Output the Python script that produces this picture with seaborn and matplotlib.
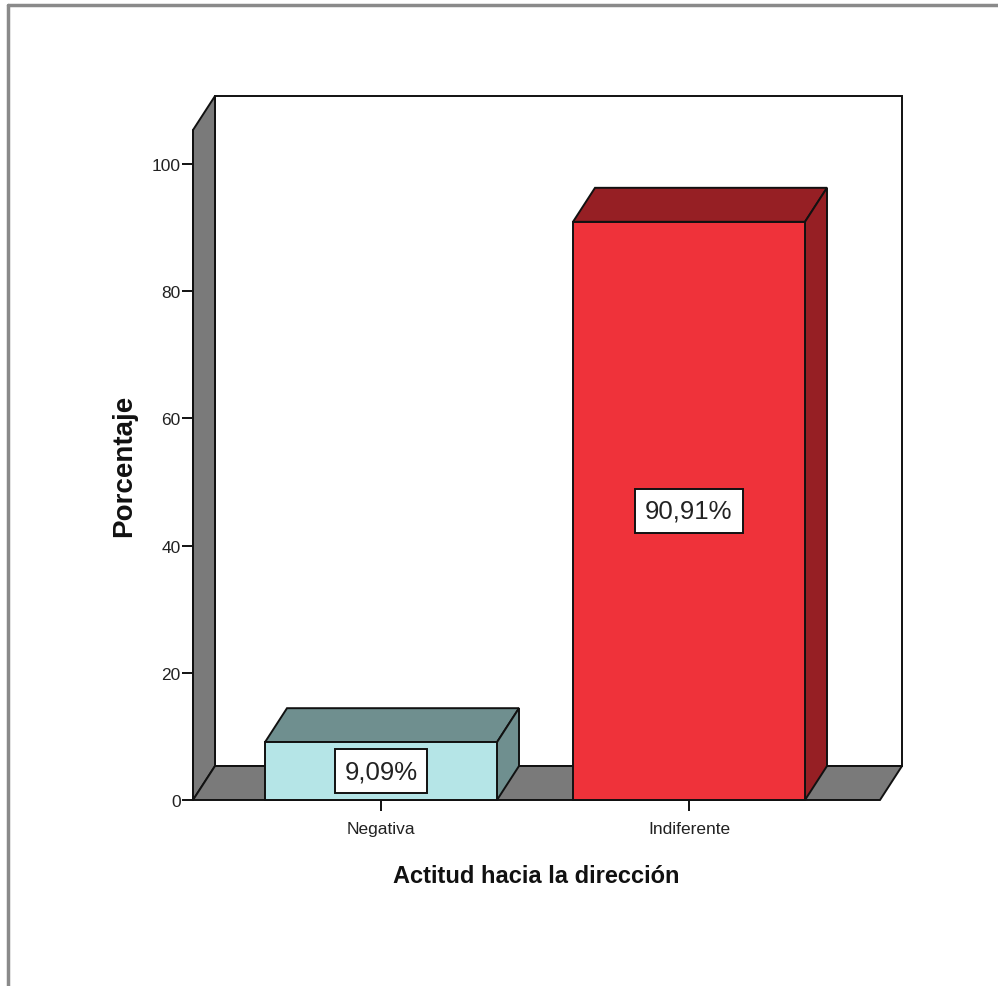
import matplotlib
matplotlib.use("Agg")
import matplotlib.pyplot as plt
from matplotlib.patches import Polygon
from matplotlib.lines import Line2D
import seaborn as sns

# Data
categories = ["Negativa", "Indiferente"]
percent = [9.09, 90.91]
value_labels = ["9,09%", "90,91%"]
y_ticks = [0, 20, 40, 60, 80, 100]

# Styling
front_colors = ["#b5e5e7", "#ef323a"]
shade_colors = ["#6f8f8f", "#961f24"]
wall_color = "#7a7a7a"
edge = "#111111"

sns.set_theme(style="white")
plt.rcParams["font.family"] = ["Liberation Sans", "DejaVu Sans"]

W, H = 998, 987
fig = plt.figure(figsize=(W / 100, H / 100), dpi=100)

# axes occupy the front face of the 3D box (pixel geometry)
left_px, right_px, bottom_px, top_px = 193, 880, 801, 131
ax = fig.add_axes([left_px / W, 1 - bottom_px / H,
                   (right_px - left_px) / W, (bottom_px - top_px) / H])

px_per_unit_x = 308.0
px_per_unit_y = 6.36
x_lo = -188 / px_per_unit_x
x_hi = 1 + 191 / px_per_unit_x
y_hi = (bottom_px - top_px) / px_per_unit_y
dx = 22 / px_per_unit_x          # depth offset in data units
dy = 34 / px_per_unit_y
bar_w = 232 / px_per_unit_x

sns.barplot(x=categories, y=percent, hue=categories, palette=front_colors,
            width=bar_w, saturation=1, errorbar=None, legend=False,
            edgecolor=edge, linewidth=1.4, ax=ax)

ax.set_xlim(x_lo, x_hi)
ax.set_ylim(0, y_hi)

# back wall
ax.add_patch(Polygon([(x_lo + dx, dy), (x_hi + dx, dy), (x_hi + dx, y_hi + dy),
                      (x_lo + dx, y_hi + dy)], closed=True, facecolor="white",
                     edgecolor=edge, linewidth=1.4, clip_on=False, zorder=0.5))
# left wall
ax.add_patch(Polygon([(x_lo, 0), (x_lo + dx, dy), (x_lo + dx, y_hi + dy), (x_lo, y_hi)],
                     closed=True, facecolor=wall_color, edgecolor=edge,
                     linewidth=1.4, clip_on=False, zorder=0.6))
# floor
ax.add_patch(Polygon([(x_lo, 0), (x_hi, 0), (x_hi + dx, dy), (x_lo + dx, dy)],
                     closed=True, facecolor=wall_color, edgecolor=edge,
                     linewidth=1.4, clip_on=False, zorder=0.7))

# 3D top and side faces of each bar, then its label
for p, shade, lab in zip(ax.patches[:len(categories)], shade_colors, value_labels):
    x0 = p.get_x()
    w = p.get_width()
    h = p.get_height()
    x1 = x0 + w
    p.set_zorder(3)
    p.set_clip_on(False)
    ax.add_patch(Polygon([(x0, h), (x1, h), (x1 + dx, h + dy), (x0 + dx, h + dy)],
                         closed=True, facecolor=shade, edgecolor=edge,
                         linewidth=1.4, clip_on=False, zorder=2))
    ax.add_patch(Polygon([(x1, 0), (x1 + dx, dy), (x1 + dx, h + dy), (x1, h)],
                         closed=True, facecolor=shade, edgecolor=edge,
                         linewidth=1.4, clip_on=False, zorder=2))
    ax.text(x0 + w / 2, h / 2, lab, ha="center", va="center", fontsize=18.5,
            color="#222222", zorder=5,
            bbox=dict(boxstyle="square,pad=0.38", facecolor="white",
                      edgecolor=edge, linewidth=1.4))

# axes styling
for s in ax.spines.values():
    s.set_visible(False)
ax.add_line(Line2D([x_lo, x_lo], [0, y_hi], color=edge, linewidth=1.4,
                   clip_on=False, zorder=1))
ax.set_yticks(y_ticks)
ax.set_yticklabels([str(t) for t in y_ticks])
ax.tick_params(axis="both", which="both", direction="out", length=8, width=1.4,
               color=edge, labelsize=12.5, labelcolor="#222222", pad=1,
               left=True, bottom=True)
ax.tick_params(axis="x", pad=7)
ax.set_xlabel("Actitud hacia la dirección", fontsize=17, fontweight="bold",
              color="#111111", labelpad=20)
ax.set_ylabel("Porcentaje", fontsize=20, fontweight="bold", color="#111111",
              labelpad=10)
ax.patch.set_alpha(0)

# outer frame (top and left edges)
fig.add_artist(Line2D([8 / W, 1], [1 - 5.5 / H, 1 - 5.5 / H],
                      transform=fig.transFigure, color="#8a8a8a", linewidth=2.5))
fig.add_artist(Line2D([8 / W, 8 / W], [0, 1 - 5.5 / H],
                      transform=fig.transFigure, color="#8a8a8a", linewidth=2.5))

fig.savefig("out.png", dpi=100, facecolor="white")
